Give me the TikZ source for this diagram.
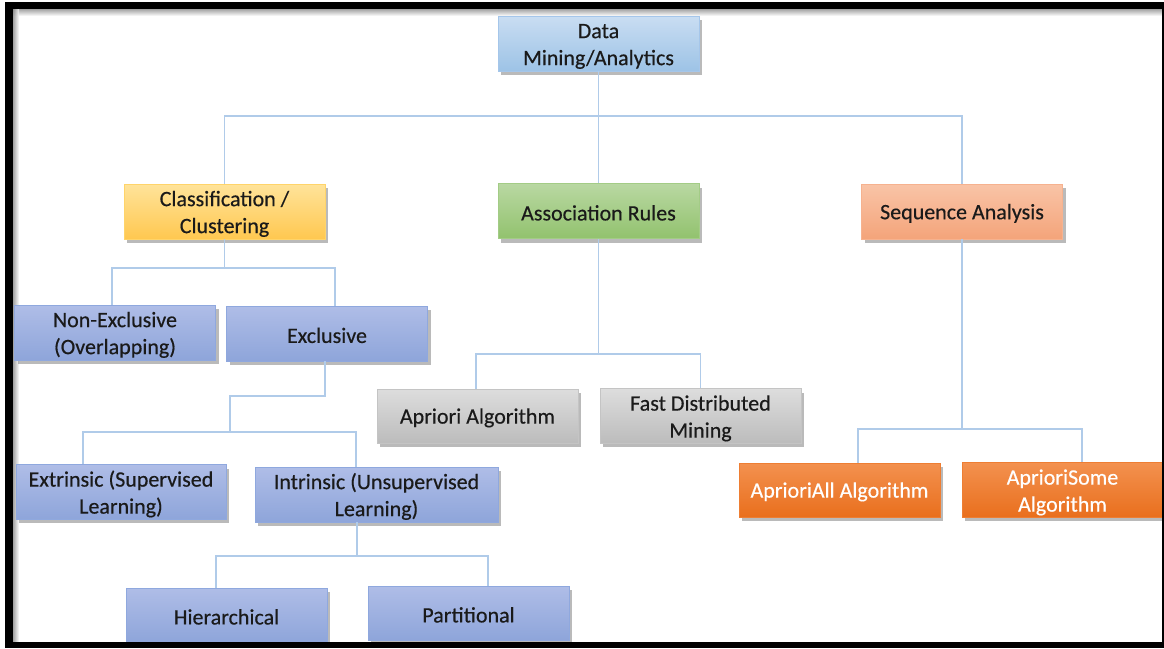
\documentclass[tikz,border=0pt]{standalone}
\usepackage{fontspec}
\setmainfont{Carlito}
\newfontfamily\boxfont{Carlito}[FakeBold=0.4]
\usetikzlibrary{shadows,calc}
\definecolor{connc}{HTML}{B0CBE9}
\definecolor{rootT}{HTML}{C9DDF2}\definecolor{rootB}{HTML}{9DC3E6}\definecolor{rootD}{HTML}{A5C6EA}
\definecolor{clsT}{HTML}{FFE39A}\definecolor{clsB}{HTML}{FFC850}\definecolor{clsD}{HTML}{FFD46A}
\definecolor{asT}{HTML}{B9D8A2}\definecolor{asB}{HTML}{92C26E}\definecolor{asD}{HTML}{A3CC86}
\definecolor{sqT}{HTML}{F9C4A7}\definecolor{sqB}{HTML}{F4A47A}\definecolor{sqD}{HTML}{F6B28F}
\definecolor{blT}{HTML}{AFBDE7}\definecolor{blB}{HTML}{8EA5DA}\definecolor{blD}{HTML}{8FA8DE}
\definecolor{grT}{HTML}{DDDDDD}\definecolor{grB}{HTML}{BCBCBC}\definecolor{grD}{HTML}{C4C4C4}
\definecolor{orT}{HTML}{F3914F}\definecolor{orB}{HTML}{E96F1D}\definecolor{orD}{HTML}{EE7E33}
\definecolor{txt}{HTML}{1A1A1A}
\begin{document}
\begin{tikzpicture}[x=1pt,y=-1pt,
  box/.style={minimum width=201pt, minimum height=55pt, inner sep=2pt, align=center,
    font=\boxfont\fontsize{22}{27}\selectfont, text=txt, line width=0.6pt,
    execute at begin node={\rule{0pt}{19pt}},
    drop shadow={shadow xshift=3pt,shadow yshift=-4pt,opacity=0.45,fill=black!60}},
  two/.style={execute at begin node={\rule{0pt}{47pt}}},
  rootbox/.style={box, top color=rootT, bottom color=rootB, draw=rootD},
  clsbox/.style={box, top color=clsT, bottom color=clsB, draw=clsD},
  asbox/.style={box, top color=asT, bottom color=asB, draw=asD},
  sqbox/.style={box, top color=sqT, bottom color=sqB, draw=sqD},
  blbox/.style={box, top color=blT, bottom color=blB, draw=blD},
  grbox/.style={box, top color=grT, bottom color=grB, draw=grD},
  orbox/.style={box, top color=orT, bottom color=orB, draw=orD, text=white},
  conn/.style={draw=connc, line width=1.3pt}]
\useasboundingbox (0,0) rectangle (1164,648);
\fill[white] (0,0) rectangle (1164,648);

% frame shading
\shade[top color=black!45, bottom color=white, opacity=0.8] (13,9) rectangle (1162,16);
\shade[left color=black!45, right color=white, opacity=0.8] (13,9) rectangle (19,642);

% nodes
\node[rootbox, two] (root) at (598.5,43.5) {Data\\Mining/Analytics};
\node[clsbox, two] (cls) at (224.5,211.5) {Classification /\\Clustering};
\node[asbox] (assoc) at (598.5,211) {Association Rules};
\node[sqbox] (seq) at (962,211.5) {Sequence Analysis};
\node[blbox, two] (nonex) at (115,332.5) {Non-Exclusive\\(Overlapping)};
\node[blbox] (excl) at (327,333.5) {Exclusive};
\node[blbox, two, minimum width=210pt, minimum height=54pt] (extr) at (121,492) {Extrinsic (Supervised\\Learning)};
\node[blbox, two, minimum width=243pt] (intr) at (376.5,494.5) {Intrinsic (Unsupervised\\Learning)};
\node[blbox, minimum height=54pt] (hier) at (226.5,615) {Hierarchical};
\node[blbox, minimum height=54pt] (part) at (468.5,613) {Partitional};
\node[grbox, minimum height=54pt] (apri) at (477.5,416) {Apriori Algorithm};
\node[grbox, two, minimum height=54pt] (fast) at (700.5,416) {Fast Distributed\\Mining};
\node[orbox, minimum height=54pt] (aall) at (839.5,490) {AprioriAll Algorithm};
\node[orbox, two, minimum height=54pt] (asome) at (1062.5,490) {AprioriSome\\Algorithm};

% junctions
\coordinate (r1) at (598.5,116);
\coordinate (c1) at (224.5,268);
\coordinate (e1) at (325,396);
\coordinate (e2) at (230,432);
\coordinate (i1) at (357,556);
\coordinate (a1) at (598.5,354);
\coordinate (s1) at (962,429);

% connectors
\draw[conn] (root.south) -- (assoc.north);
\draw[conn] (r1) -| (cls.north);
\draw[conn] (r1) -| (seq.north);
\draw[conn] (cls.south) -- (c1);
\draw[conn] (c1) -| ($(nonex.north)+(-3,0)$);
\draw[conn] (c1) -| ($(excl.north)+(8,0)$);
\draw[conn] (excl.south -| e1) -- (e1) -| (e2);
\draw[conn] (e2) -| ($(extr.north)+(-38,0)$);
\draw[conn] (e2) -| ($(intr.north)+(-20.5,0)$);
\draw[conn] (intr.south -| i1) -- (i1);
\draw[conn] (i1) -| ($(hier.north)+(-10.5,0)$);
\draw[conn] (i1) -| ($(part.north)+(19.5,0)$);
\draw[conn] (assoc.south) -- (a1);
\draw[conn] (a1) -| ($(apri.north)+(-1.5,0)$);
\draw[conn] (a1) -| (fast.north);
\draw[conn] (seq.south) -- (s1);
\draw[conn] (s1) -| ($(aall.north)+(18.5,0)$);
\draw[conn] (s1) -| ($(asome.north)+(19.5,0)$);

% frame
\fill[black] (5,2) rectangle (13,648);
\fill[black] (5,2) rectangle (1164,9);
\fill[black] (1162,2) rectangle (1164,648);
\fill[black] (5,642) rectangle (1164,648);
\end{tikzpicture}
\end{document}
